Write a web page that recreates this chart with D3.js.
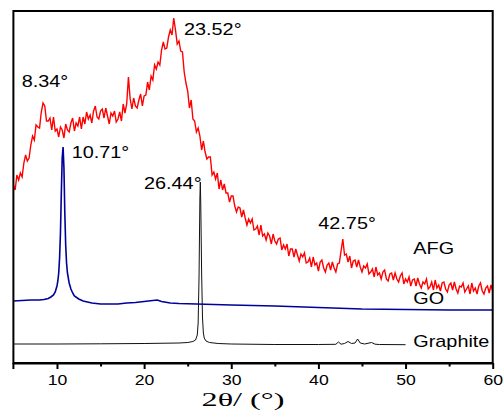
<!DOCTYPE html>
<html><head><meta charset="utf-8">
<script src="https://cdn.jsdelivr.net/npm/d3@7"></script>
<style>
html,body{margin:0;padding:0;background:#fff;}
svg{display:block;}
</style></head>
<body>
<svg id="chart" width="504" height="411"></svg>
<script>
// ---- data ----
const xTicks = [10, 20, 30, 40, 50, 60];
const xMinorTicks = [15, 25, 35, 45, 55];
const xLabel = "2θ/ (°)";

// AFG sampled every 0.2° from 5° to 60°
const afgStart = 5, afgStep = 0.2;
const afgIntensity = [
178,173,188,183,190,186,200,208,202,205,218,227,223,238,236,235,251,260,257,242,
242,245,233,246,232,234,226,236,233,225,239,233,231,240,245,232,240,237,246,234,
246,239,251,244,248,240,252,257,246,244,252,254,245,255,247,239,250,247,252,241,
244,251,242,259,250,259,286,264,254,265,257,255,263,269,257,267,268,281,273,287,
283,298,294,301,298,313,321,314,315,326,333,328,345,333,319,322,312,311,291,280,
272,255,263,244,242,231,235,227,213,222,211,204,206,206,188,191,184,190,174,183,
173,179,170,170,161,167,167,157,151,156,155,146,153,145,138,144,140,144,133,134,
137,128,138,127,129,123,130,127,119,129,122,119,124,125,113,118,114,119,107,114,
114,106,114,108,102,109,106,110,100,101,105,96,106,98,100,92,101,103,95,91,
98,100,93,101,95,91,99,100,112,124,108,109,101,107,95,102,103,96,103,96,
91,97,95,99,89,91,94,86,96,88,90,84,91,93,84,82,89,90,83,90,
84,81,87,90,79,84,81,86,77,83,84,77,85,79,75,81,79,84,74,76,
81,73,83,75,78,72,80,81,74,71,78,80,73,81,74,70,77,76,80,71,
74,77,69,80,72,75,69,77,80,72,69,75,77,70,78,72
];

const goTheta = [5,6,7,8,8.5,9,9.3,9.6,9.8,10.0,10.1,10.2,10.3,10.4,10.5,10.6,10.7,10.8,10.9,11.0,11.1,11.2,11.4,11.6,11.8,12.0,12.5,13,14,15,16,17,18,19,20,21,21.5,22,23,24,26,30,35,40,45,50,55,60];
const goIntensity = [62,62.5,63,63,63.5,64.5,66,68,71,77,82,90,105,130,170,205,216,195,150,118,100,90,80,74,70,67,64,62,60,59,59,59,60,60.5,61.5,62.5,63,61.5,60,59.5,59,58,57,55.5,54,53.5,53,53];

const grTheta = [5,10,15,20,24,25,25.6,25.9,26.1,26.2,26.3,26.4,26.45,26.5,26.6,26.7,26.8,26.9,27.1,27.5,28.5,30,35,40,42,42.3,42.6,43.0,43.4,43.8,44.2,44.5,44.8,45.3,46.1,46.5,47,50];
const grIntensity = [19,19,19.2,19.5,20,20.5,21.5,23,28,40,85,165,181,160,90,45,30,25,22,20.5,19.5,19,18.5,18.5,18.7,21,18.8,19.5,21.5,19.5,20,24,20,19,20.5,18.8,18.5,18.3];

const peakLabels = ["8.34°","23.52°","10.71°","26.44°","42.75°"];
const seriesNames = ["AFG","GO","Graphite"];
const seriesColors = ["#ff0000","#00009a","#111111"];

// ---- drawing ----
const SANS = "'Liberation Sans', Arial, sans-serif";
const SERIF = "'Liberation Serif', 'Times New Roman', serif";
const svg = d3.select("#chart");
const L = 13.4, R = 492.7, T = 11, B = 363;
const x = d3.scaleLinear().domain([5, 60]).range([L, R]);
const y = d3.scaleLinear().domain([0, 352]).range([B, T]);
const line = d3.line().x(d => x(d[0])).y(d => y(d[1]));

const afg = afgIntensity.map((v, i) => [afgStart + i * afgStep, v]);
const go = goTheta.map((t, i) => [t, goIntensity[i]]);
const gr = grTheta.map((t, i) => [t, grIntensity[i]]);

svg.append("path").datum(gr).attr("d", line).attr("fill", "none")
  .attr("stroke", seriesColors[2]).attr("stroke-width", 1);
svg.append("path").datum(go).attr("d", line).attr("fill", "none")
  .attr("stroke", seriesColors[1]).attr("stroke-width", 1.6);
svg.append("path").datum(afg).attr("d", line).attr("fill", "none")
  .attr("stroke", seriesColors[0]).attr("stroke-width", 1.4);

// frame
svg.append("rect").attr("x", L).attr("y", T).attr("width", R - L).attr("height", B - T)
  .attr("fill", "none").attr("stroke", "#000").attr("stroke-width", 2);

// axis
const axis = d3.axisBottom(x).tickValues(xTicks).tickSize(6).tickSizeOuter(0)
  .tickFormat(d3.format("d"));
const gAx = svg.append("g").attr("transform", `translate(0,${B})`).call(axis);
gAx.select(".domain").attr("stroke-width", 2);
gAx.selectAll(".tick line").attr("stroke-width", 2);
gAx.selectAll(".tick text")
  .style("font-family", SANS).style("font-size", "14px")
  .attr("fill", "#000").attr("dy", null).attr("y", 22)
  .attr("textLength", d => String(d).length * 9.8).attr("lengthAdjust", "spacingAndGlyphs");
const minor = d3.axisBottom(x).tickValues(xMinorTicks).tickSize(3.5).tickFormat("");
const gMin = svg.append("g").attr("transform", `translate(0,${B})`).call(minor);
gMin.select(".domain").remove();
gMin.selectAll(".tick line").attr("stroke-width", 2);
svg.append("line").attr("x1", x(5)).attr("x2", x(5)).attr("y1", B).attr("y2", B + 6)
  .attr("stroke", "#000").attr("stroke-width", 2);

// axis title
svg.append("text").attr("x", 243).attr("y", 406).attr("text-anchor", "middle")
  .style("font-family", SERIF).style("font-size", "18px")
  .attr("textLength", 83).attr("lengthAdjust", "spacingAndGlyphs")
  .text(xLabel);

// annotations
const stretch = 1.24;
function label(txt, px, py) {
  svg.append("text").attr("transform", `translate(${px},${py}) scale(${stretch},1)`)
    .style("font-family", SANS).style("font-size", "16px").attr("fill", "#000").text(txt);
}
label(peakLabels[0], 21.7, 87);
label(peakLabels[1], 184, 35);
label(peakLabels[2], 71.7, 158);
label(peakLabels[3], 144, 188.5);
label(peakLabels[4], 318.3, 228.5);
label(seriesNames[0], 413.3, 253.5);
label(seriesNames[1], 413.3, 304);
label(seriesNames[2], 413.3, 346.5);
</script>
</body></html>
